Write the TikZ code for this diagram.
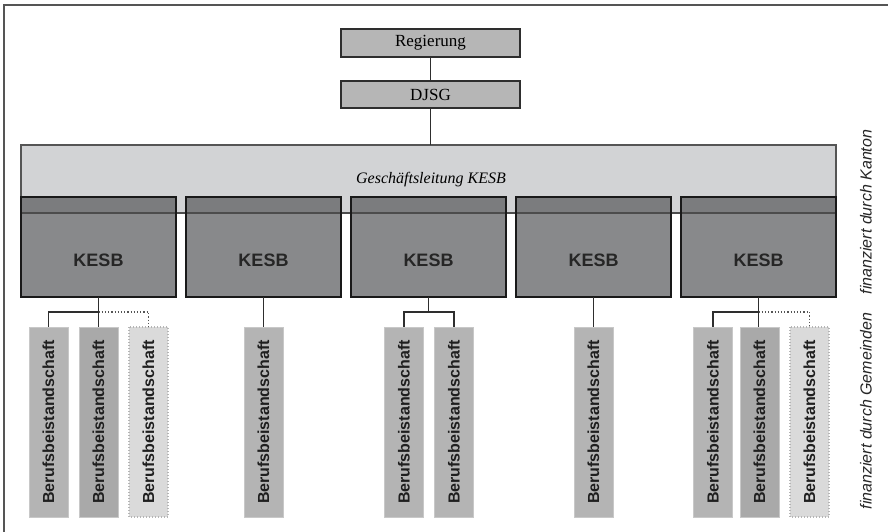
\documentclass[tikz,border=0pt]{standalone}
\usepackage{fontspec}
\setmainfont{Liberation Serif}
\setsansfont{Liberation Sans}
\usetikzlibrary{calc}
\definecolor{topfill}{HTML}{B6B6B6}
\definecolor{glfill}{HTML}{D2D3D5}
\definecolor{kesbfill}{HTML}{88898B}
\definecolor{kesbstrip}{HTML}{7B7C7E}
\definecolor{bfill}{HTML}{B4B4B4}
\definecolor{bfillmid}{HTML}{A9A9A9}
\definecolor{bedge}{HTML}{C8C8C8}
\definecolor{dfill}{HTML}{DADADA}
\definecolor{dedge}{HTML}{B4B4B4}
\definecolor{linec}{HTML}{2E2E2E}
\definecolor{framec}{HTML}{555555}
\begin{document}
\begin{tikzpicture}[x=1pt,y=-1pt,
  topbox/.style={draw=linec,line width=1.8pt,fill=topfill,minimum width=179pt,minimum height=28pt,inner sep=0pt,outer sep=0pt,font=\fontsize{17}{19}\selectfont},
  glbox/.style={draw=framec,line width=1.4pt,fill=glfill,minimum width=815pt,minimum height=68pt,inner sep=0pt,outer sep=0pt},
  gltext/.style={font=\itshape\fontsize{16}{18}\selectfont,inner sep=0pt},
  kesbbox/.style={fill=kesbfill,minimum width=155pt,minimum height=100pt,inner sep=0pt,outer sep=0pt},
  kesbframe/.style={draw=black!90,line width=2.2pt},
  kesbtext/.style={font=\sffamily\bfseries\fontsize{18}{20}\selectfont,text=black!85,inner sep=0pt},
  bbox/.style={rotate=90,fill=bfill,draw=bedge,line width=1pt,minimum width=190pt,minimum height=39pt,inner sep=0pt,outer sep=0pt,font=\sffamily\bfseries\fontsize{16}{18}\selectfont,text=black!88},
  bmid/.style={bbox,fill=bfillmid},
  bdot/.style={bbox,fill=dfill,draw=dedge,dotted,line width=1.2pt},
  conn/.style={draw=linec,line width=1.2pt},
  dconn/.style={draw=framec,line width=1.2pt,dotted},
  sidetext/.style={rotate=90,font=\sffamily\itshape\fontsize{16}{18}\selectfont,text=black!85,inner sep=0pt}
]
\useasboundingbox (0,0) rectangle (888,532);
% outer frame
\coordinate (fa) at (888,5);
\coordinate (fb) at (4,5);
\coordinate (fc) at (4,532);
\draw[framec,line width=1.6pt] (fa) -- (fb) -- (fc);

% top boxes
\node[topbox] (reg) at (430.5,43) {Regierung};
\node[topbox,minimum height=27pt] (djsg) at (430.5,94.5) {DJSG};
\draw[conn] (reg) -- (djsg);

% Geschaeftsleitung
\node[glbox] (gl) at (428.5,179) {};
\node[gltext] (glt) at (431,180) {Geschäftsleitung KESB};
\draw[conn] (djsg.south) -- (djsg.south |- gl.north);

% KESB boxes
\foreach \i/\x in {1/98.5,2/263.5,3/428.5,4/593.5,5/758.5}{
  \node[kesbbox] (k\i) at (\x,247) {};
  \fill[kesbstrip] (k\i.north west) rectangle ($(k\i.north east)+(0,16)$);
}
\draw[framec!90!black,line width=1.2pt] (gl.south west) -- (gl.south east);
\foreach \i in {1,...,5}{
  \draw[kesbframe] (k\i.north west) rectangle (k\i.south east);
  \node[kesbtext] (k\i t) at ($(k\i.center)+(0,13)$) {KESB};
}

% Berufsbeistandschaft boxes
\node[bbox] (b11) at (48.5,422) {Berufsbeistandschaft};
\node[bmid] (b12) at (98.5,422) {Berufsbeistandschaft};
\node[bdot] (b13) at (148.5,422) {Berufsbeistandschaft};
\node[bbox] (b2) at (263.5,422) {Berufsbeistandschaft};
\node[bbox] (b31) at (404,422) {Berufsbeistandschaft};
\node[bbox] (b32) at (454,422) {Berufsbeistandschaft};
\node[bbox] (b4) at (593.5,422) {Berufsbeistandschaft};
\node[bbox] (b51) at (713,422) {Berufsbeistandschaft};
\node[bmid] (b52) at (759.5,422) {Berufsbeistandschaft};
\node[bdot] (b53) at (809.5,422) {Berufsbeistandschaft};

% connectors
\coordinate (j1) at ($(k1.south)+(0,15)$);
\draw[conn] (k1.south) -- (k1.south |- b12.east);
\draw[conn] (j1) -| (b11.east);
\draw[dconn] (j1) -| (b13.east);

\draw[conn] (k2.south) -- (k2.south |- b2.east);

\coordinate (j3) at ($(k3.south)+(0,15)$);
\draw[conn] (k3.south) -- (j3);
\draw[conn] (j3) -| (b31.east);
\draw[conn] (j3) -| (b32.east);

\draw[conn] (k4.south) -- (k4.south |- b4.east);

\coordinate (j5) at ($(k5.south)+(0,15)$);
\draw[conn] (k5.south) -- (k5.south |- b52.east);
\draw[conn] (j5) -| (b51.east);
\draw[dconn] (j5) -| (b53.east);

% side labels
\node[sidetext] (kan) at (866,212) {finanziert durch Kanton};
\node[sidetext] (gem) at (866,411) {finanziert durch Gemeinden};
\end{tikzpicture}
\end{document}
